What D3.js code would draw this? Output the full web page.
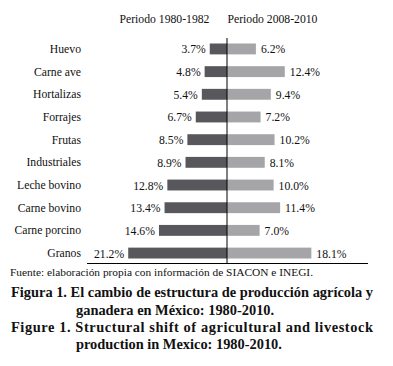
<!DOCTYPE html>
<html lang="es">
<head>
<meta charset="UTF-8">
<title>Cambio de estructura de producción</title>
<script src="https://d3js.org/d3.v7.min.js"></script>
<style>
    body { margin: 0; background: #fff; }
    svg text { font-family: "Liberation Serif", "Times New Roman", serif; fill: #111; }
</style>
</head>
<body>
<svg id="chart" width="393" height="366"></svg>
<script>
    // data
    const categories = ["Huevo", "Carne ave", "Hortalizas", "Forrajes", "Frutas",
        "Industriales", "Leche bovino", "Carne bovino", "Carne porcino", "Granos"];
    const period1 = [3.7, 4.8, 5.4, 6.7, 8.5, 8.9, 12.8, 13.4, 14.6, 21.2];
    const period2 = [6.2, 12.4, 9.4, 7.2, 10.2, 8.1, 10.0, 11.4, 7.0, 18.1];
    const headers = ["Periodo 1980-1982", "Periodo 2008-2010"];
    const source = "Fuente: elaboración propia con información de SIACON e INEGI.";
    const caption = [
        "Figura 1. El cambio de estructura de producción agrícola y",
        "ganadera en México: 1980-2010.",
        "Figure 1. Structural shift of agricultural and livestock",
        "production in Mexico: 1980-2010."
    ];

    const svg = d3.select("#chart");
    const cx = 227;

    const x = d3.scaleLinear().domain([0, 25]).range([0, 116.5]);
    const y = d3.scaleBand().domain(categories).range([37.6, 264.4])
        .paddingInner(0.52).paddingOuter(0.26);

    const rows = categories.map((c, i) => ({ cat: c, a: period1[i], b: period2[i] }));

    // headers
    svg.selectAll(".hdr").data(headers).enter().append("text")
        .attr("x", (d, i) => i === 0 ? 164.5 : 272.5)
        .attr("y", 23)
        .attr("text-anchor", "middle")
        .attr("font-size", 11.7)
        .text(d => d);

    const g = svg.selectAll(".row").data(rows).enter().append("g")
        .attr("transform", d => `translate(0,${y(d.cat)})`);

    const bh = y.bandwidth();

    g.append("rect")
        .attr("x", d => cx - x(d.a))
        .attr("width", d => x(d.a))
        .attr("height", bh)
        .attr("fill", "#58585c");

    g.append("rect")
        .attr("x", cx)
        .attr("width", d => x(d.b))
        .attr("height", bh)
        .attr("fill", "#a5a5a8");

    g.append("text")
        .attr("x", 81)
        .attr("y", bh / 2 + 4)
        .attr("text-anchor", "end")
        .attr("font-size", 11.7)
        .text(d => d.cat);

    g.append("text")
        .attr("x", d => cx - x(d.a) - 4)
        .attr("y", bh / 2 + 4.5)
        .attr("text-anchor", "end")
        .attr("font-size", 11.7)
        .text(d => d.a.toFixed(1) + "%");

    g.append("text")
        .attr("x", d => cx + x(d.b) + 5)
        .attr("y", bh / 2 + 4.5)
        .attr("font-size", 11.7)
        .text(d => d.b.toFixed(1) + "%");

    // axis lines
    svg.append("line")
        .attr("x1", cx).attr("x2", cx).attr("y1", 38).attr("y2", 264)
        .attr("stroke", "#000").attr("stroke-width", 1);
    svg.append("line")
        .attr("x1", 87).attr("x2", 368).attr("y1", 263.5).attr("y2", 263.5)
        .attr("stroke", "#000").attr("stroke-width", 1);

    // source
    svg.append("text")
        .attr("x", 10).attr("y", 276)
        .attr("font-size", 11)
        .attr("textLength", 303).attr("lengthAdjust", "spacingAndGlyphs")
        .text(source);

    // caption: glyphs are narrowed in the original, lines 1 and 3 justified
    const capX = [11, 76, 11, 76];
    const capY = [297, 314.5, 332, 349];
    const capFull = 362;
    const cap = svg.selectAll(".cap").data(caption).enter().append("text")
        .attr("font-size", 15)
        .attr("font-weight", "bold")
        .text(d => d);

    const sx = capFull / cap.nodes()[0].getComputedTextLength();
    cap.attr("transform", (d, i) => `translate(${capX[i]},${capY[i]}) scale(${sx},1)`)
        .each(function (d, i) {
            if (i % 2 === 0) {
                d3.select(this).attr("textLength", capFull / sx).attr("lengthAdjust", "spacing");
            }
        });
</script>
</body>
</html>
